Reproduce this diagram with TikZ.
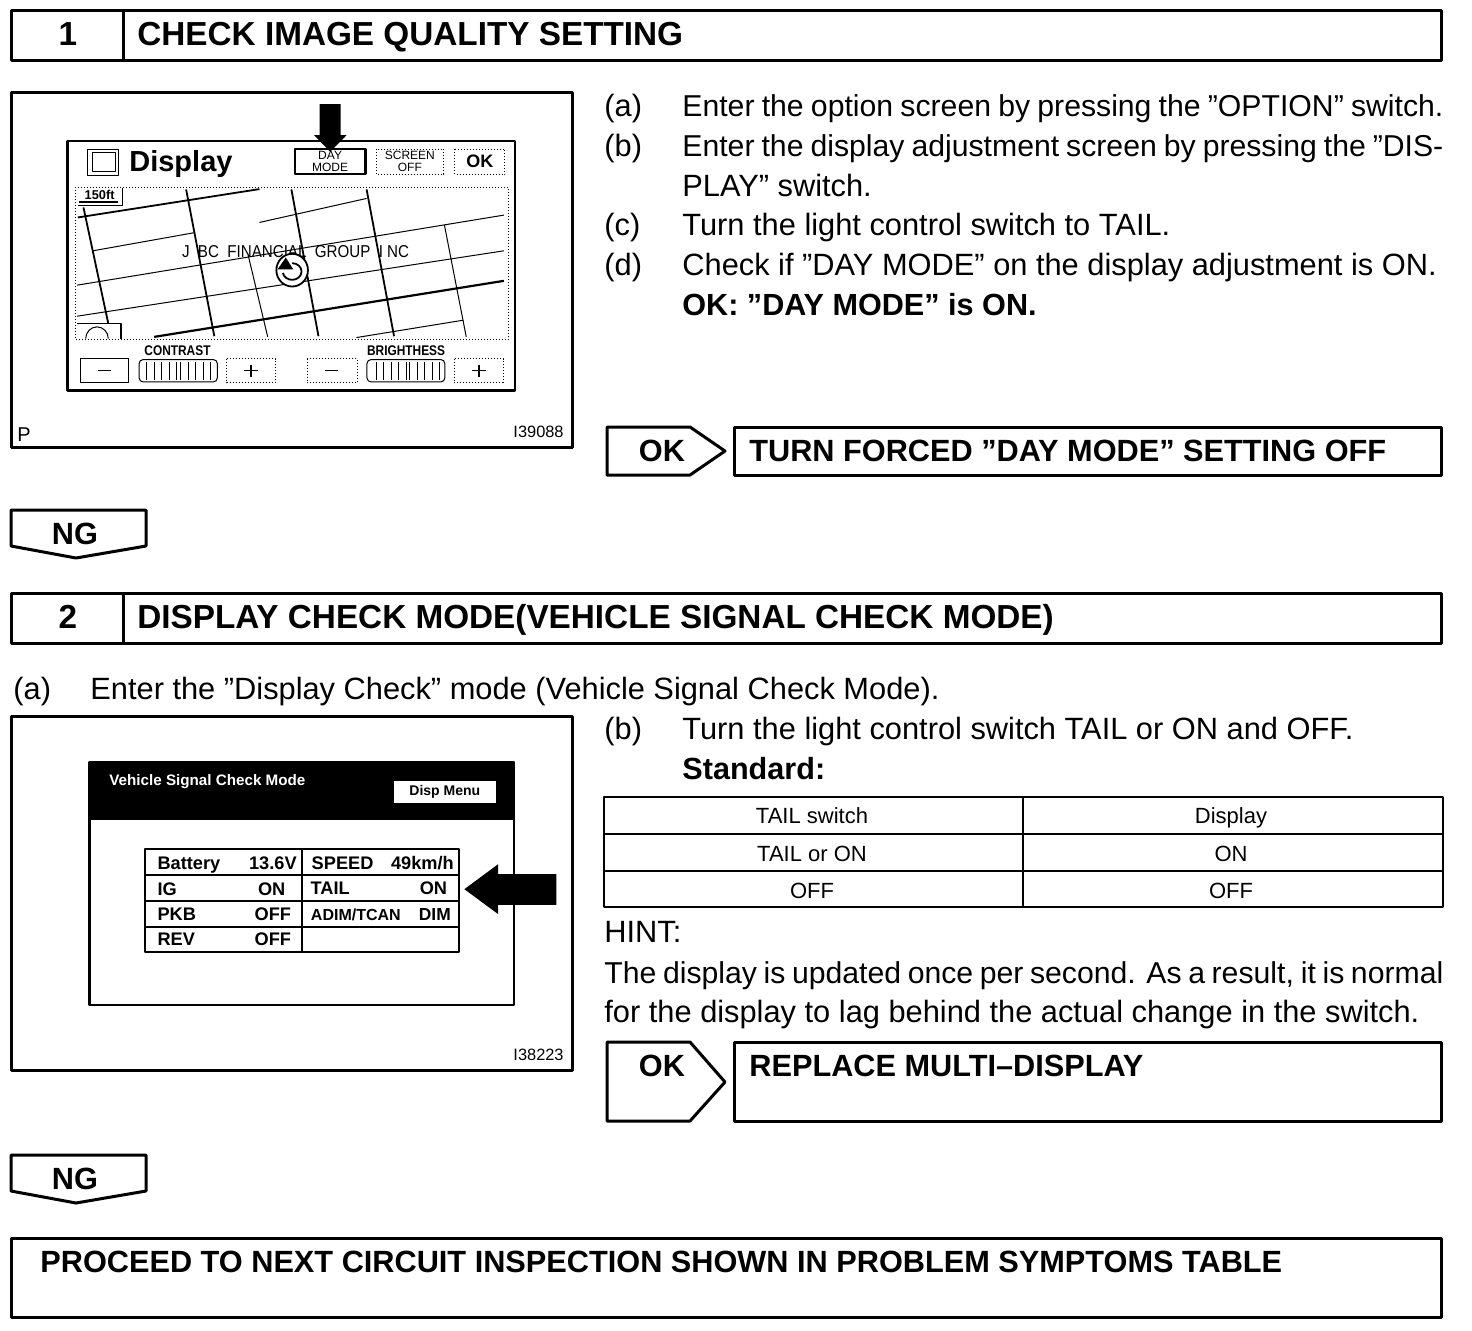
\documentclass[tikz,border=0pt]{standalone}
\usepackage{fontspec}
\setmainfont{Liberation Sans}
\usepackage{graphicx}
\usepackage{tikz}
\newcommand{\FitLine}[2]{\hbox to #1{\fontsize{15.1}{18}\selectfont\spaceskip=.278em plus 1em minus .25em #2}}

\begin{document}
\begin{tikzpicture}[x=0.5pt,y=-0.5pt,line join=round]
        \tikzset{Frame/.style={line width=1.5pt},
        Thin/.style={line width=0.5pt},
        Dots/.style={line width=0.5pt, densely dotted},
        Road/.style={line width=0.9pt},
        Main/.style={line width=1pt},
        HeadText/.style={anchor=base west, inner sep=0pt, font=\fontsize{16.65}{18}\selectfont\bfseries},
        TagText/.style={anchor=base west, inner sep=0pt, font=\fontsize{15.35}{18}\selectfont\bfseries},
        BodyText/.style={anchor=base west, inner sep=0pt, font=\fontsize{15.4}{18}\selectfont},
        BoldText/.style={BodyText, font=\fontsize{15.3}{18}\selectfont\bfseries},
        CellText/.style={anchor=base, inner sep=0pt, font=\fontsize{11}{13}\selectfont},
        CodeText/.style={inner sep=0pt, font=\fontsize{8.2}{9}\selectfont},
        ScreenText/.style={inner sep=0pt, font=\fontsize{7}{8}\selectfont\bfseries},
        SignalText/.style={anchor=base west, inner sep=0pt, font=\fontsize{9.1}{10}\selectfont\bfseries}}
        \useasboundingbox (0,0) rectangle (1472,1330);
        % headers
        \draw[Frame] (11,10) rectangle (1441,60);
        \draw[Frame] (123,10) -- (123,60);
        \node[HeadText, anchor=base] (numone) at (68,45) {1};
        \node[HeadText] (titleone) at (137,45) {CHECK IMAGE QUALITY SETTING};
        \draw[Frame] (11,593) rectangle (1441,643);
        \draw[Frame] (123,593) -- (123,643);
        \node[HeadText, anchor=base] (numtwo) at (68,628) {2};
        \node[HeadText] (titletwo) at (137,628) {DISPLAY CHECK MODE(VEHICLE SIGNAL CHECK MODE)};
        % steps, first part
        \node[BodyText] (a1) at (604,116) {(a)};
        \node[BodyText] (a1t) at (682,116) {\FitLine{380.5pt}{Enter the option screen by pressing the ”OPTION” switch.}};
        \node[BodyText] (b1) at (604,156) {(b)};
        \node[BodyText] (b1t) at (682,156) {\FitLine{380.5pt}{Enter the display adjustment screen by pressing the ”DIS-}};
        \node[BodyText] (b1u) at (682,196) {PLAY” switch.};
        \node[BodyText] (c1) at (604,235) {(c)};
        \node[BodyText] (c1t) at (682,235) {Turn the light control switch to TAIL.};
        \node[BodyText] (d1) at (604,275) {(d)};
        \node[BodyText] (d1t) at (682,275) {Check if ”DAY MODE” on the display adjustment is ON.};
        \node[BoldText] (d1u) at (682,315) {OK: ”DAY MODE” is ON.};
        % result boxes
        \draw[Frame] (607,427) -- (690,427) -- (725,451) -- (690,475) -- (607,475) -- cycle;
        \node[TagText, anchor=base] (okone) at (662,461) {OK};
        \draw[Frame] (734,427) rectangle (1441,475);
        \node[TagText] (offtext) at (749,461) {TURN FORCED ”DAY MODE” SETTING OFF};
        \draw[Frame] (11,510) -- (146,510) -- (146,546) -- (76,558) -- (11,546) -- cycle;
        \node[TagText, anchor=base] (ngone) at (75,544) {NG};
        \draw[Frame] (607,1042) -- (690,1042) -- (725,1082) -- (690,1121) -- (607,1121) -- cycle;
        \node[TagText, anchor=base] (oktwo) at (662,1076) {OK};
        \draw[Frame] (734,1042) rectangle (1441,1121);
        \node[TagText] (replacetext) at (749,1076) {REPLACE MULTI–DISPLAY};
        \draw[Frame] (11,1155) -- (146,1155) -- (146,1191) -- (76,1203) -- (11,1191) -- cycle;
        \node[TagText, anchor=base] (ngtwo) at (75,1189) {NG};
        \draw[Frame] (11,1238) rectangle (1441,1317);
        \node[TagText] (proceedtext) at (40,1272) {PROCEED TO NEXT CIRCUIT INSPECTION SHOWN IN PROBLEM SYMPTOMS TABLE};
        % steps, second part
        \node[BodyText] (a2) at (13,699) {(a)};
        \node[BodyText] (a2t) at (90,699) {Enter the ”Display Check” mode (Vehicle Signal Check Mode).};
        \node[BodyText] (b2) at (604,739) {(b)};
        \node[BodyText] (b2t) at (682,739) {Turn the light control switch TAIL or ON and OFF.};
        \node[BoldText] (stdtext) at (682,779) {Standard:};
        \draw[Main] (604,797) rectangle (1443,907);
        \draw[Main] (604,834) -- (1443,834);
        \draw[Main] (604,871) -- (1443,871);
        \draw[Main] (1023,797) -- (1023,907);
        \node[CellText] (tailhead) at (812,823) {TAIL switch};
        \node[CellText] (disphead) at (1231,823) {Display};
        \node[CellText] (tailon) at (812,861) {TAIL or ON};
        \node[CellText] (dispon) at (1231,861) {ON};
        \node[CellText] (tailoff) at (812,898) {OFF};
        \node[CellText] (dispoff) at (1231,898) {OFF};
        \node[BodyText] (hint) at (604,942) {HINT:};
        \node[BodyText] (hinta) at (604,983) {\FitLine{419.5pt}{The display is updated once per second. As a result, it is normal}};
        \node[BodyText] (hintb) at (604,1022) {for the display to lag behind the actual change in the switch.};
        % first screen
        \draw[Frame] (11,92) rectangle (572,447);
        \begin{scope}[shift={(0,80)},xscale=0.376,yscale=0.3336]
        \draw[line width=1.3pt] (180,183) rectangle (1370,930);
        \fill (850,72) -- (906,72) -- (906,165) -- (922,165) -- (878,215) -- (835,165) -- (850,165) -- cycle;
        \draw[Thin] (232,208) rectangle (315,285);
        \draw[Thin] (245,218) rectangle (308,275);
        \node[anchor=west, inner sep=0pt, font=\fontsize{14.5}{16}\selectfont\bfseries] (disptitle) at (343,253) {Display};
        \draw[line width=1.2pt] (784,207) rectangle (972,282);
        \node[ScreenText, font=\fontsize{6}{6.2}\selectfont, align=center] (daybtn) at (878,244) {DAY\\MODE};
        \draw[Dots] (1000,207) rectangle (1180,283);
        \node[ScreenText, font=\fontsize{6}{6.2}\selectfont, align=center] (screenbtn) at (1090,244) {SCREEN\\OFF};
        \draw[Dots] (1210,207) rectangle (1343,283);
        \node[ScreenText, font=\fontsize{9}{10}\selectfont\bfseries] (okbtn) at (1276,245) {OK};
        % map
        \draw[Dots] (200,322) rectangle (1352,778);
        \draw[Road] (207,412) -- (690,327);
        \draw[Road] (222,382) -- (288,730);
        \draw[Road] (495,328) -- (570,768);
        \draw[Road] (775,328) -- (847,768);
        \draw[Road] (975,328) -- (1048,768);
        \draw[line width=1.1pt] (410,770) -- (1340,602);
        \draw[Thin] (690,427) -- (975,355);
        \draw[Thin] (247,512) -- (515,458);
        \draw[Thin] (205,615) -- (1340,405);
        \draw[Thin] (205,708) -- (1340,512);
        \draw[Thin] (948,772) -- (1232,720);
        \draw[Thin] (660,525) -- (712,770);
        \draw[Thin] (1182,435) -- (1240,770);
        \draw[Thin] (325,325) -- (325,375) -- (207,375);
        \draw[line width=0.8pt] (210,365) -- (315,365);
        \node[ScreenText, font=\fontsize{6.4}{7}\selectfont\bfseries] (scaletext) at (265,343) {150ft};
        \draw[line width=0.8pt] (205,730) -- (322,730) -- (322,775);
        \draw[Thin] (228,775) arc (180:360:30 and 35);
        \node[inner sep=0pt, font=\fontsize{8.6}{10}\selectfont] (maptext) at (786,514) {\scalebox{.88}[1]{J\ \ BC\ \ FINANCIAL\ \ GROUP\ \ I NC}};
        \draw[line width=0.9pt, fill=white] (777,570) circle (21pt and 24.5pt);
        \draw[line width=0.9pt] (777,549) arc (90:-170:12.5pt);
        \fill (738,568) -- (760,532) -- (780,568) -- cycle;
        % sliders
        \draw[Thin] (213,835) rectangle (342,907);
        \draw[line width=0.9pt] (260,871) -- (295,871);
        \draw[Thin, rounded corners=2pt] (370,838) rectangle (578,905);
        \foreach \barx in {390,410,430,450,470,480,500,520,540,560}
        {\draw[Thin] (\barx,845) -- (\barx,898);}
        \draw[Dots] (603,835) rectangle (732,907);
        \draw[line width=0.9pt] (650,871) -- (686,871);
        \draw[line width=0.9pt] (668,853) -- (668,889);
        \draw[Dots] (817,835) rectangle (950,907);
        \draw[line width=0.9pt] (865,871) -- (900,871);
        \draw[Thin, rounded corners=2pt] (976,838) rectangle (1183,905);
        \foreach \barx in {1000,1020,1040,1060,1080,1090,1110,1130,1150,1170}
        {\draw[Thin] (\barx,845) -- (\barx,898);}
        \draw[Dots] (1208,835) rectangle (1338,907);
        \draw[line width=0.9pt] (1255,871) -- (1292,871);
        \draw[line width=0.9pt] (1273,853) -- (1273,889);
        \node[ScreenText] (contrast) at (472,810) {\scalebox{.85}[1]{CONTRAST}};
        \node[ScreenText] (brighthess) at (1080,810) {\scalebox{.85}[1]{BRIGHTHESS}};
        \node[anchor=west, CodeText, font=\fontsize{10}{11}\selectfont] (plabel) at (45,1062) {P};
        \node[anchor=east, CodeText] (codeone) at (1500,1056) {I39088};
        \end{scope}
        % second screen
        \draw[Frame] (11,716) rectangle (572,1070);
        \begin{scope}[shift={(0,710)},xscale=0.376,yscale=0.3336]
        \draw[line width=1.1pt] (238,157) rectangle (1367,884);
        \fill (238,157) rectangle (1367,330);
        \node[anchor=west, inner sep=0pt, text=white, font=\fontsize{7.6}{8}\selectfont\bfseries] (modetitle) at (290,215) {Vehicle Signal Check Mode};
        \fill[white] (1048,212) rectangle (1318,278);
        \node[ScreenText] (menubtn) at (1183,246) {Disp Menu};
        \draw[line width=1pt] (385,417) rectangle (1222,726);
        \draw[line width=1pt] (385,495) -- (1222,495);
        \draw[line width=1pt] (385,573) -- (1222,573);
        \draw[line width=1pt] (385,650) -- (1222,650);
        \draw[line width=1pt] (802,417) -- (802,726);
        \node[SignalText] (batt) at (418,478) {Battery};
        \node[SignalText, anchor=base east] (battv) at (790,478) {13.6V};
        \node[SignalText] (speed) at (828,478) {SPEED};
        \node[SignalText, anchor=base east] (speedv) at (1208,478) {49km/h};
        \node[SignalText] (ig) at (418,556) {IG};
        \node[SignalText, anchor=base east] (igv) at (760,556) {ON};
        \node[SignalText] (tail) at (825,554) {TAIL};
        \node[SignalText, anchor=base east] (tailv) at (1190,554) {ON};
        \node[SignalText] (pkb) at (418,630) {PKB};
        \node[SignalText, anchor=base east] (pkbv) at (775,630) {OFF};
        \node[SignalText, font=\fontsize{8}{9}\selectfont\bfseries] (adim) at (826,630) {ADIM/TCAN};
        \node[SignalText, font=\fontsize{8.7}{9}\selectfont\bfseries, anchor=base east] (adimv) at (1200,630) {DIM};
        \node[SignalText] (rev) at (418,706) {REV};
        \node[SignalText, anchor=base east] (revv) at (775,706) {OFF};
        \fill (1235,537) -- (1325,462) -- (1325,492) -- (1480,492) -- (1480,584) -- (1325,584) -- (1325,612) -- cycle;
        \node[anchor=east, CodeText] (codetwo) at (1500,1035) {I38223};
        \end{scope}
    \end{tikzpicture}
\end{document}
